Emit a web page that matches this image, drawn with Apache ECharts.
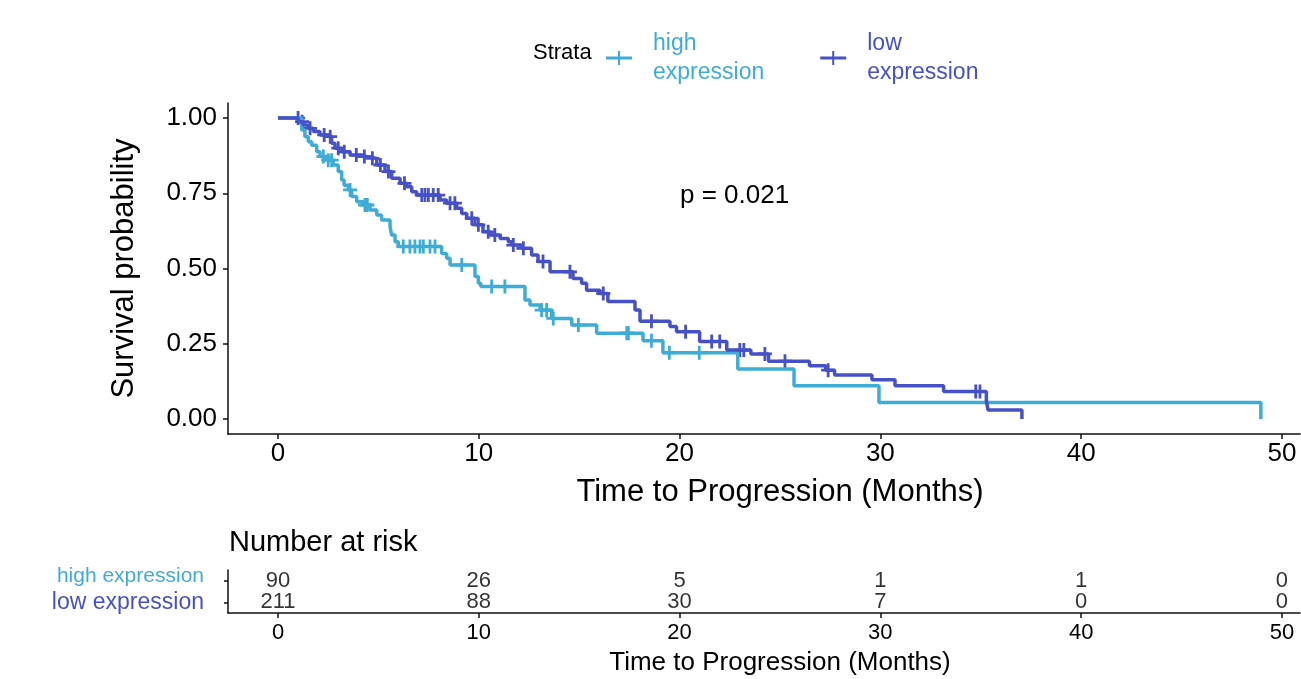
<!DOCTYPE html>
<html>
<head>
<meta charset="utf-8">
<title>Survival curves</title>
<script src="https://cdn.jsdelivr.net/npm/echarts@6/dist/echarts.min.js"></script>
<style>
	html, body { margin: 0; padding: 0; background: #fff; }
	#km_chart { width: 1301px; height: 679px; }
</style>
</head>
<body>
<div id="km_chart"></div>
<script>
// KM curve for the high expression group: event times (months) and survival after each event
var highTime = [0, 1.18, 1.34, 1.51, 1.68, 1.93, 2.09, 2.43, 2.75, 3.0, 3.17, 3.29, 3.5, 3.67, 3.92, 4.25, 4.58, 4.92, 5.16, 5.58, 5.66, 5.83, 5.99, 8.15, 8.4, 8.57, 9.81, 9.98, 10.1, 12.3, 12.55, 13.05, 13.63, 14.63, 15.87, 18.18, 19.17, 22.9, 25.7, 29.93, 48.95];
var highSurv = [1, 0.96, 0.938, 0.921, 0.91, 0.888, 0.872, 0.86, 0.844, 0.822, 0.794, 0.777, 0.761, 0.739, 0.722, 0.711, 0.694, 0.678, 0.661, 0.639, 0.611, 0.589, 0.573, 0.55, 0.534, 0.512, 0.473, 0.451, 0.44, 0.395, 0.379, 0.362, 0.334, 0.312, 0.285, 0.26, 0.22, 0.166, 0.11, 0.055, 0];
var highCensor = [2.26, 2.5, 2.67, 3.59, 4.33, 4.45, 6.24, 6.57, 6.82, 7.07, 7.24, 7.57, 7.82, 9.15, 10.64, 11.3, 13.13, 13.38, 13.71, 14.96, 17.37, 17.45, 18.6, 19.49, 20.98];

// KM curve for the low expression group
var lowTime = [0, 1.01, 1.26, 1.51, 1.76, 2.09, 2.5, 2.67, 2.84, 3.17, 3.59, 4.17, 4.42, 4.92, 5.33, 5.66, 6.08, 6.41, 6.66, 6.91, 8.07, 8.4, 8.9, 9.15, 9.4, 9.81, 10.21, 10.56, 11.06, 11.47, 11.64, 12.14, 12.63, 12.95, 13.55, 14.69, 15.12, 15.37, 16.04, 16.43, 17.78, 18.03, 19.52, 19.85, 21.0, 22.35, 23.55, 24.43, 26.47, 27.28, 27.72, 29.58, 30.73, 33.15, 35.28, 35.36, 37.05];
var lowSurv = [1, 0.988, 0.977, 0.966, 0.955, 0.944, 0.938, 0.916, 0.9, 0.888, 0.877, 0.872, 0.866, 0.844, 0.822, 0.8, 0.783, 0.772, 0.755, 0.744, 0.728, 0.717, 0.7, 0.683, 0.667, 0.645, 0.622, 0.611, 0.6, 0.589, 0.578, 0.567, 0.545, 0.523, 0.489, 0.467, 0.451, 0.428, 0.417, 0.39, 0.362, 0.325, 0.307, 0.29, 0.257, 0.229, 0.216, 0.192, 0.177, 0.162, 0.146, 0.13, 0.11, 0.091, 0.06, 0.03, 0];
var lowCensor = [1.0, 1.2, 1.6, 2.3, 2.6, 3.0, 3.3, 3.9, 4.3, 4.7, 5.1, 5.5, 6.3, 7.16, 7.32, 7.49, 7.73, 7.98, 8.57, 8.81, 9.65, 9.98, 10.47, 10.8, 11.72, 12.22, 13.2, 14.54, 16.2, 18.6, 20.3, 21.6, 22.0, 23.0, 23.2, 24.25, 25.25, 27.4, 34.75, 34.96];

// number at risk table
var riskTime = [0, 10, 20, 30, 40, 50];
var highRisk = [90, 26, 5, 1, 1, 0];
var lowRisk = [211, 88, 30, 7, 0, 0];

var xTicks = [0, 10, 20, 30, 40, 50];
var yTicks = [0, 0.25, 0.5, 0.75, 1];

var groupNames = ['high expression', 'low expression'];
var highColor = '#3DADD8';
var lowColor = '#4751C7';
var font = 'Liberation Sans, Arial, sans-serif';

// survival value of the step curve at time t
var survAt = function(times, surv, t) {
	var s = surv[0];
	for (var i = 0; i < times.length; i++) {
		if (times[i] <= t) s = surv[i];
	}
	return s;
};

var pairs = function(xs, ys) {
	return xs.map(function(x, i) { return [x, ys[i]]; });
};

var censorPoints = function(censor, times, surv) {
	return censor.map(function(t) { return [t, survAt(times, surv, t)]; });
};

var riskPoints = function(counts, group) {
	return counts.map(function(n, i) { return [riskTime[i], group, n]; });
};

var setChart = function() {
	var plusIcon = 'path://M0,5.5 H26 V8.5 H0 Z M12,0 H14 V14 H12 Z';
	var censorSymbol = 'path://M4,0 H6 V4 H10 V6 H6 V10 H4 V6 H0 V4 H4 Z';
	var lineStyle = { color: '#111', width: 1.5 };

	var option = {
		animation: false,
		textStyle: { fontFamily: font },
		graphic: [
			{ type: 'text', left: 533, top: 42, style: { text: 'Strata', font: '22px ' + font, fill: '#000' } },
			{ type: 'text', left: 680, top: 183, style: { text: 'p = 0.021', font: '26px ' + font, fill: '#000' } },
			{ type: 'text', left: 229, top: 528, style: { text: 'Number at risk', font: '29px ' + font, fill: '#000' } }
		],
		legend: {
			left: 601,
			top: 24,
			itemWidth: 26,
			itemHeight: 14,
			itemGap: 56,
			formatter: function(name) { return name.replace(' ', '\n'); },
			textStyle: { fontSize: 23, lineHeight: 29, padding: [0, 0, 0, 16], fontFamily: font },
			data: [
				{ name: groupNames[0], icon: plusIcon, textStyle: { color: highColor } },
				{ name: groupNames[1], icon: plusIcon, textStyle: { color: lowColor } }
			]
		},
		grid: [
			{ left: 228, right: 1, top: 103, height: 331 },
			{ left: 228, right: 1, top: 570, height: 43 }
		],
		xAxis: [{
			type: 'value',
			gridIndex: 0,
			min: -2.49,
			max: 50.9,
			name: 'Time to Progression (Months)',
			nameLocation: 'middle',
			nameGap: 43,
			nameTextStyle: { fontSize: 31, color: '#000', padding: [0, 0, 0, 32] },
			axisLine: { show: true, onZero: false, lineStyle: lineStyle },
			axisTick: { show: true, length: 5, lineStyle: lineStyle, customValues: xTicks },
			axisLabel: { fontSize: 26, color: '#000', margin: 7, customValues: xTicks },
			splitLine: { show: false }
		}, {
			type: 'value',
			gridIndex: 1,
			min: -2.49,
			max: 50.9,
			name: 'Time to Progression (Months)',
			nameLocation: 'middle',
			nameGap: 37,
			nameTextStyle: { fontSize: 26, color: '#000', padding: [0, 0, 0, 32] },
			axisLine: { show: true, onZero: false, lineStyle: lineStyle },
			axisTick: { show: true, length: 5, lineStyle: lineStyle, customValues: xTicks },
			axisLabel: { fontSize: 22, color: '#000', margin: 9, customValues: xTicks },
			splitLine: { show: false }
		}],
		yAxis: [{
			type: 'value',
			gridIndex: 0,
			min: -0.05,
			max: 1.05,
			name: 'Survival probability',
			nameLocation: 'middle',
			nameRotate: 90,
			nameGap: 88,
			nameTextStyle: { fontSize: 31, color: '#000' },
			axisLine: { show: true, onZero: false, lineStyle: lineStyle },
			axisTick: { show: true, length: 5, lineStyle: lineStyle, customValues: yTicks },
			axisLabel: {
				fontSize: 26,
				color: '#000',
				margin: 11,
				customValues: yTicks,
				formatter: function(v) { return v.toFixed(2); }
			},
			splitLine: { show: false }
		}, {
			type: 'category',
			gridIndex: 1,
			data: [groupNames[1], groupNames[0]],
			axisLine: { show: true, onZero: false, lineStyle: lineStyle },
			axisTick: { show: true, length: 4, alignWithLabel: true, lineStyle: lineStyle },
			axisLabel: {
				margin: 24,
				formatter: function(v) { return v === groupNames[0] ? '{h|' + v + '}' : '{l|' + v + '}'; },
				rich: {
					h: { color: highColor, fontSize: 21, fontFamily: font, padding: [0, 0, 9, 0] },
					l: { color: lowColor, fontSize: 23, fontFamily: font }
				}
			},
			splitLine: { show: false }
		}],
		series: [{
			name: groupNames[0],
			type: 'line',
			step: 'end',
			showSymbol: false,
			symbol: 'none',
			color: highColor,
			lineStyle: { width: 3.5, color: highColor },
			data: pairs(highTime, highSurv)
		}, {
			name: groupNames[1],
			type: 'line',
			step: 'end',
			showSymbol: false,
			symbol: 'none',
			color: lowColor,
			lineStyle: { width: 3.5, color: lowColor },
			data: pairs(lowTime, lowSurv)
		}, {
			name: groupNames[0],
			type: 'scatter',
			symbol: censorSymbol,
			symbolSize: 14,
			itemStyle: { color: highColor, opacity: 1 },
			data: censorPoints(highCensor, highTime, highSurv)
		}, {
			name: groupNames[1],
			type: 'scatter',
			symbol: censorSymbol,
			symbolSize: 14,
			itemStyle: { color: lowColor, opacity: 1 },
			data: censorPoints(lowCensor, lowTime, lowSurv)
		}, {
			name: 'risk',
			type: 'scatter',
			xAxisIndex: 1,
			yAxisIndex: 1,
			symbolSize: 0,
			label: {
				show: true,
				position: 'inside',
				fontSize: 22,
				color: '#000',
				textBorderWidth: 0,
				formatter: function(p) { return p.value[2]; }
			},
			data: riskPoints(highRisk, groupNames[0]).concat(riskPoints(lowRisk, groupNames[1]))
		}]
	};
	//初始化echarts实例
	var myChart = echarts.init(document.getElementById('km_chart'));
	myChart.setOption(option);
};

setChart();
</script>
</body>
</html>
